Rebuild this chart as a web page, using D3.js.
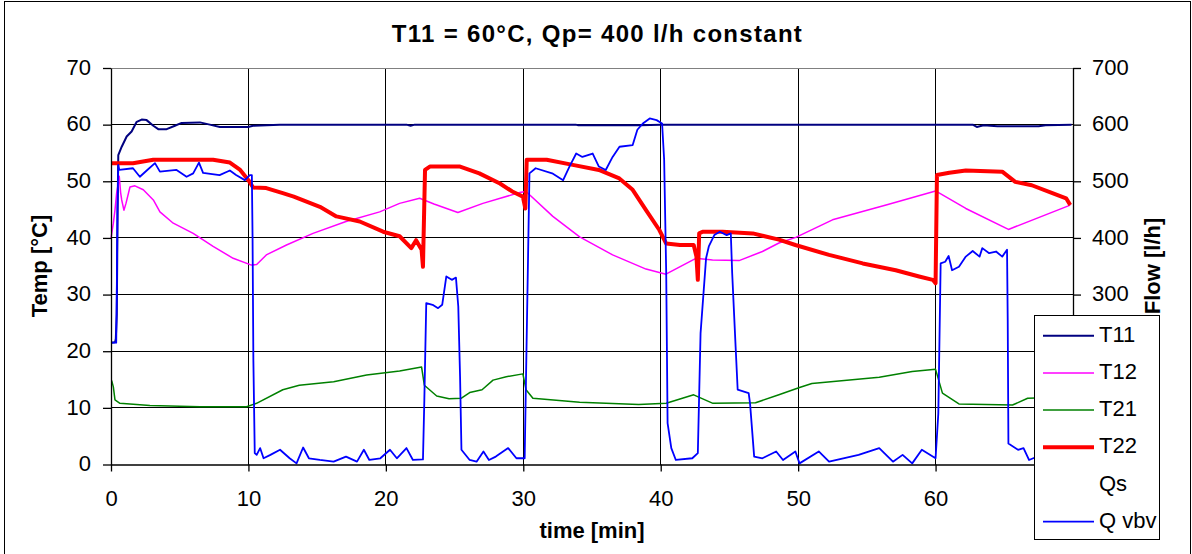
<!DOCTYPE html>
<html>
<head>
<meta charset="utf-8">
<script src="https://cdn.jsdelivr.net/npm/d3@7"></script>
<style>
  body { margin: 0; background: #fff; }
  text { font-family: 'Liberation Sans', Arial, sans-serif; }
</style>
</head>
<body>
<div id="main"></div>
<script>
// values: [time min, value]
const timeTicks = [0, 10, 20, 30, 40, 50, 60, 70];
const tempTicks = [0, 10, 20, 30, 40, 50, 60, 70];
const flowTicks = [0, 100, 200, 300, 400, 500, 600, 700];
// labels that sit under the legend in the original are left blank
const hiddenFlowLabels = [0, 100, 200];
const hiddenTimeLabels = [70];

const t11 = [
  [0, 21.5], [0.3, 21.6], [0.35, 22.2], [0.42, 26.5], [0.48, 45], [0.53, 54.6], [0.78, 56.1], [1.14, 57.9],
  [1.5, 58.8], [1.87, 60.5], [2.23, 60.9], [2.59, 60.8], [3.08, 59.8], [3.44, 59.2], [4.05, 59.2], [4.65, 59.8],
  [5.14, 60.3], [6.47, 60.4], [7.19, 60.0], [7.92, 59.6], [9.98, 59.6], [10.34, 59.8], [12.28, 60.0], [21.5, 60],
  [21.8, 59.8], [22.1, 60], [33.8, 60], [34, 59.9], [38.5, 59.9], [40, 60], [62.7, 60], [63, 59.6], [63.5, 59.9],
  [64.5, 59.7], [67.5, 59.7], [68, 59.9], [69.9, 60],
];

const t12 = [
  [0, 39.9], [0.17, 42.6], [0.29, 44.9], [0.41, 47.9], [0.53, 49.6], [0.6, 50.9], [0.7, 48], [0.78, 46.7],
  [0.94, 44.9], [1.09, 46.1], [1.38, 49.0], [1.74, 49.2], [2.35, 48.5], [3.08, 46.7], [3.56, 44.6], [4.53, 42.6],
  [5.98, 40.8], [7.43, 38.5], [8.89, 36.4], [10.22, 35.2], [10.6, 35.3], [11.3, 37.0], [12.77, 38.75], [14.7, 40.8],
  [17.1, 42.9], [19.55, 44.6], [21.0, 46.1], [22.46, 47.0], [23.5, 46.0], [25.24, 44.5], [27.06, 46.1], [29.72, 48.0],
  [30.2, 48.2], [32.15, 43.8], [34.1, 40.2], [36.5, 37.0], [38.93, 34.5], [40.38, 33.6], [42.56, 36.4], [43.77, 36.1],
  [45.7, 36.0], [47.4, 37.6], [48.6, 39.1], [49.83, 40.1], [52.5, 43.2], [56.4, 45.8], [60.0, 48.3], [62.2, 45.2],
  [65.3, 41.5], [69.8, 45.8],
];

const t21 = [
  [0, 14.8], [0.05, 14.8], [0.17, 13.7], [0.29, 11.4], [0.65, 10.8], [2.83, 10.4], [6.47, 10.2], [9.86, 10.2],
  [10.59, 10.8], [12.5, 13.2], [13.7, 14.0], [16.2, 14.6], [18.6, 15.8], [21.0, 16.5], [22.6, 17.2], [22.8, 14.0],
  [23.7, 12.1], [24.6, 11.6], [25.5, 11.7], [26.1, 12.7], [27.0, 13.2], [27.8, 14.9], [28.76, 15.5], [29.97, 16.0],
  [30.2, 13.2], [30.7, 11.7], [34.1, 11.0], [38.4, 10.6], [40.4, 10.8], [42.4, 12.3], [43.8, 10.8], [46.9, 10.9],
  [48.6, 12.3], [50.1, 13.6], [51.0, 14.3], [55.9, 15.4], [58.3, 16.4], [60.0, 16.8], [60.5, 12.6], [61.7, 10.7],
  [65.6, 10.5], [66.7, 11.7], [69.8, 11.9],
];

const t22 = [
  [0, 53.2], [1.6, 53.2], [3.07, 53.8], [7.43, 53.8], [8.65, 53.3], [9.4, 52.0], [10.0, 50.2], [10.34, 48.9],
  [11.3, 48.8], [12.5, 47.9], [13.3, 47.3], [15.2, 45.5], [16.4, 43.8], [18.1, 42.9], [19.8, 41.1], [21.0, 40.3],
  [21.85, 38.2], [22.2, 39.6], [22.6, 37.9], [22.7, 34.9], [22.85, 52.0], [23.2, 52.6], [25.4, 52.6], [26.8, 51.4],
  [28.3, 49.6], [29.2, 48.2], [29.97, 47.3], [30.15, 45.2], [30.25, 53.8], [31.7, 53.8], [33.6, 52.9], [35.5, 52.0],
  [36.99, 50.5], [37.96, 48.5], [38.93, 44.9], [39.9, 41.4], [40.4, 39.0], [41.4, 38.75], [42.4, 38.75], [42.6, 36.7],
  [42.7, 32.6], [42.8, 40.8], [43.05, 41.1], [44.5, 41.1], [46.7, 40.8], [48.6, 39.7], [49.8, 38.75], [52.25, 37.0],
  [54.7, 35.5], [57.1, 34.3], [58.8, 33.2], [59.8, 32.6], [60.0, 32.0], [60.1, 51.1], [61.0, 51.5], [62.2, 51.9],
  [64.85, 51.7], [65.8, 49.9], [67.0, 49.3], [68.5, 47.9], [69.5, 47.0], [69.8, 45.8],
];

const qs = []; // listed in the legend, no line drawn

const qvbv = [
  [0, 215], [0.38, 215], [0.42, 300], [0.47, 450], [0.53, 529], [0.6, 520], [1.6, 523], [2.1, 508], [2.6, 519],
  [3.2, 532], [3.56, 517], [4.77, 520], [5.5, 508], [5.98, 514], [6.4, 533], [6.7, 515], [7.9, 511], [8.65, 519],
  [9.1, 511], [9.74, 502], [10.1, 511], [10.25, 511], [10.3, 402], [10.36, 184], [10.46, 20], [10.6, 17], [10.85, 29],
  [11.1, 11], [11.6, 17], [12.3, 26], [13.0, 11], [13.5, 2], [13.98, 30], [14.4, 11], [15.2, 8], [16.2, 5], [17.1, 14],
  [17.9, 5], [18.4, 26], [18.8, 8], [19.6, 11], [20.3, 26], [20.8, 11], [21.5, 29], [21.97, 8], [22.7, 9], [22.8, 114],
  [22.94, 285], [23.4, 282], [23.8, 276], [24.1, 282], [24.4, 332], [24.8, 326], [25.1, 330], [25.27, 279], [25.4, 155],
  [25.5, 26], [26.1, 8], [26.6, 5], [27.1, 23], [27.5, 8], [28.0, 14], [28.9, 29], [29.5, 11], [30.1, 11], [30.2, 155],
  [30.45, 514], [30.9, 523], [32.1, 514], [32.9, 502], [33.36, 526], [33.85, 549], [34.3, 543], [35.05, 549],
  [35.5, 526], [36.0, 520], [36.5, 543], [37.0, 561], [37.96, 564], [38.3, 591], [38.7, 602], [39.2, 611], [39.7, 608],
  [40.1, 602], [40.25, 538], [40.4, 338], [40.5, 73], [40.77, 29], [41.1, 8], [42.3, 11], [42.7, 20], [42.9, 232],
  [43.3, 364], [43.5, 385], [43.9, 405], [44.3, 411], [44.8, 405], [45.1, 408], [45.2, 338], [45.45, 208], [45.6, 132],
  [46.4, 126], [46.5, 108], [46.8, 14], [47.4, 11], [48.4, 23], [48.9, 8], [49.8, 23], [50.1, 2], [51.5, 23],
  [52.25, 5], [54.4, 17], [55.9, 29], [56.9, 5], [57.6, 17], [58.3, 2], [59.0, 26], [60.0, 11], [60.2, 90],
  [60.37, 355], [60.7, 358], [60.95, 368], [61.2, 343], [61.7, 349], [62.2, 367], [62.7, 377], [63.2, 367], [63.4, 382],
  [63.9, 373], [64.4, 376], [64.85, 367], [65.2, 379], [65.25, 255], [65.3, 37], [66.0, 26], [66.4, 29], [66.8, 8],
  [67.5, 15], [68.2, 5], [69.0, 12], [69.8, 8],
];

const width = 1192;
const height = 554;
const plot = { left: 111, right: 1073, top: 68, bottom: 464.5 };

const svg = d3.select('#main')
  .append('svg')
  .attr('width', width)
  .attr('height', height);

svg.append('rect')
  .attr('x', 4.5).attr('y', 1.5)
  .attr('width', 1186).attr('height', 553)
  .style('fill', '#fff')
  .style('stroke', '#000');

const x = d3.scaleLinear().domain([0, 70]).range([plot.left, plot.right]);
const yT = d3.scaleLinear().domain([0, 70]).range([plot.bottom, plot.top]);
const yQ = d3.scaleLinear().domain([0, 700]).range([plot.bottom, plot.top]);

// grid
const grid = svg.append('g').attr('shape-rendering', 'crispEdges');
grid.selectAll('.hgrid')
  .data(tempTicks.filter((d) => d > 0 && d < 70))
  .enter()
  .append('line')
  .attr('x1', plot.left).attr('x2', plot.right)
  .attr('y1', (d) => yT(d)).attr('y2', (d) => yT(d))
  .style('stroke', '#000');
grid.selectAll('.vgrid')
  .data(timeTicks.filter((d) => d > 0 && d < 70))
  .enter()
  .append('line')
  .attr('x1', (d) => x(d)).attr('x2', (d) => x(d))
  .attr('y1', plot.top).attr('y2', plot.bottom)
  .style('stroke', '#000');
grid.append('line')
  .attr('x1', plot.left).attr('x2', plot.right)
  .attr('y1', plot.top).attr('y2', plot.top)
  .style('stroke', '#808080');

// series
const series = [
  { name: 'T11', data: t11, color: '#000080', w: 2, y: yT },
  { name: 'T12', data: t12, color: '#ff00ff', w: 1.5, y: yT },
  { name: 'T21', data: t21, color: '#008000', w: 1.5, y: yT },
  { name: 'T22', data: t22, color: '#ff0000', w: 4, y: yT },
  { name: 'Qs', data: qs, color: 'none', w: 0, y: yQ },
  { name: 'Q vbv', data: qvbv, color: '#0000ff', w: 1.8, y: yQ },
];

series.forEach((s) => {
  if (!s.data.length) return;
  const line = d3.line()
    .x((d) => x(d[0]))
    .y((d) => s.y(d[1]));
  svg.append('path')
    .datum(s.data)
    .attr('d', line)
    .style('fill', 'none')
    .style('stroke', s.color)
    .style('stroke-width', s.w)
    .style('stroke-linejoin', 'round');
});

// axes
const font = 22;
const leftAxis = svg.append('g')
  .attr('transform', `translate(${plot.left},0)`)
  .call(d3.axisLeft(yT).tickValues(tempTicks).tickSize(8).tickSizeOuter(0).tickPadding(12));
const rightAxis = svg.append('g')
  .attr('transform', `translate(${plot.right},0)`)
  .call(d3.axisRight(yQ).tickValues(flowTicks).tickSize(8).tickSizeOuter(0).tickPadding(11)
    .tickFormat((d) => (hiddenFlowLabels.includes(d) ? '' : d)));
const bottomAxis = svg.append('g')
  .attr('transform', `translate(0,${plot.bottom})`)
  .call(d3.axisBottom(x).tickValues(timeTicks).tickSize(7).tickSizeOuter(0).tickPadding(19)
    .tickFormat((d) => (hiddenTimeLabels.includes(d) ? '' : d)));

[leftAxis, rightAxis, bottomAxis].forEach((a) => {
  a.selectAll('text')
    .style('font-family', "'Liberation Sans', Arial, sans-serif")
    .style('font-size', `${font}px`)
    .style('fill', '#000');
  a.selectAll('line, path').style('stroke', '#000').style('stroke-width', 1.3);
});
leftAxis.selectAll('text').attr('dy', '0.28em');
rightAxis.selectAll('text').attr('dy', '0.28em');

// titles
svg.append('text')
  .attr('x', 597.5).attr('y', 41.7)
  .attr('text-anchor', 'middle')
  .style('font-size', '24px')
  .style('font-weight', 'bold')
  .style('letter-spacing', '1.3px')
  .text('T11 = 60°C, Qp= 400 l/h constant');

svg.append('text')
  .attr('x', (plot.left + plot.right) / 2).attr('y', 538)
  .attr('text-anchor', 'middle')
  .style('font-size', `${font}px`)
  .style('font-weight', 'bold')
  .text('time [min]');

svg.append('text')
  .attr('transform', 'translate(47,266) rotate(-90)')
  .attr('text-anchor', 'middle')
  .style('font-size', `${font}px`)
  .style('font-weight', 'bold')
  .text('Temp [°C]');

svg.append('text')
  .attr('transform', 'translate(1160,266) rotate(-90)')
  .attr('text-anchor', 'middle')
  .style('font-size', `${font}px`)
  .style('font-weight', 'bold')
  .text('Flow [l/h]');

// legend
const legend = svg.append('g').attr('transform', 'translate(1034,315)');
legend.append('rect')
  .attr('x', 0.5).attr('y', 0.5)
  .attr('width', 125).attr('height', 224)
  .style('fill', '#fff')
  .style('stroke', '#000');

const rows = legend.selectAll('.row')
  .data(series)
  .enter()
  .append('g')
  .attr('transform', (d, i) => `translate(0,${20.7 + i * 37.2})`);
rows.append('line')
  .attr('x1', 9).attr('x2', 60)
  .style('stroke', (d) => d.color)
  .style('stroke-width', (d) => d.w);
rows.append('text')
  .attr('x', 65).attr('y', 6)
  .style('font-size', `${font}px`)
  .text((d) => d.name);
</script>
</body>
</html>
